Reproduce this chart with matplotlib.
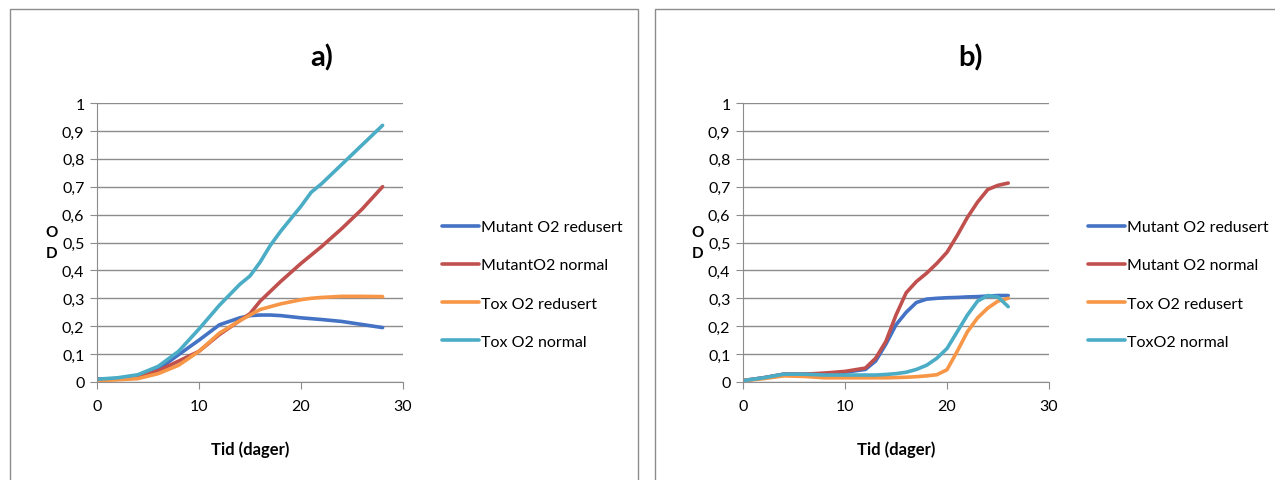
import matplotlib
matplotlib.use("Agg")
import matplotlib.pyplot as plt
from matplotlib.patches import Rectangle

plt.rcParams["font.family"] = ["Lato", "DejaVu Sans"]

# panel a) measurements (days, OD)
days_a = [0, 2, 4, 6, 8, 10, 12, 14, 15, 16, 17, 18, 20, 21, 22, 24, 26, 28]
mut_red_a = [0.01, 0.012, 0.02, 0.045, 0.098, 0.15, 0.205, 0.23, 0.238, 0.24, 0.24, 0.238, 0.23, 0.227, 0.224, 0.217, 0.206, 0.195]
mut_norm_a = [0.01, 0.012, 0.02, 0.04, 0.075, 0.11, 0.17, 0.22, 0.245, 0.29, 0.325, 0.36, 0.425, 0.455, 0.485, 0.55, 0.62, 0.70]
tox_red_a = [0.005, 0.008, 0.012, 0.03, 0.06, 0.11, 0.175, 0.22, 0.24, 0.26, 0.27, 0.28, 0.295, 0.30, 0.303, 0.307, 0.307, 0.306]
tox_norm_a = [0.01, 0.015, 0.026, 0.056, 0.11, 0.19, 0.275, 0.35, 0.38, 0.43, 0.49, 0.54, 0.63, 0.68, 0.71, 0.78, 0.85, 0.92]

# panel b) measurements
days_b = [0, 2, 4, 6, 8, 10, 12, 13, 14, 15, 16, 17, 18, 19, 20, 21, 22, 23, 24, 25, 26]
mut_red_b = [0.005, 0.015, 0.028, 0.028, 0.03, 0.035, 0.045, 0.075, 0.135, 0.205, 0.25, 0.285, 0.297, 0.3, 0.302, 0.303, 0.305, 0.306, 0.308, 0.31, 0.31]
mut_norm_b = [0.005, 0.015, 0.028, 0.028, 0.032, 0.038, 0.05, 0.085, 0.145, 0.24, 0.32, 0.36, 0.39, 0.425, 0.465, 0.525, 0.59, 0.645, 0.69, 0.705, 0.713]
tox_red_b = [0.005, 0.012, 0.022, 0.02, 0.015, 0.015, 0.015, 0.015, 0.015, 0.016, 0.017, 0.019, 0.022, 0.026, 0.044, 0.11, 0.18, 0.23, 0.265, 0.29, 0.30]
tox_norm_b = [0.005, 0.015, 0.028, 0.028, 0.025, 0.025, 0.025, 0.025, 0.027, 0.03, 0.035, 0.045, 0.06, 0.085, 0.12, 0.18, 0.24, 0.29, 0.31, 0.305, 0.27]

labels_a = ["Mutant O2 redusert", "MutantO2 normal", "Tox O2 redusert", "Tox O2 normal"]
labels_b = ["Mutant O2 redusert", "Mutant O2 normal", "Tox O2 redusert", "ToxO2 normal"]
colors = ["#4472c4", "#c0504d", "#f79646", "#4bacc6"]

y_ticks = [0, 0.1, 0.2, 0.3, 0.4, 0.5, 0.6, 0.7, 0.8, 0.9, 1.0]
y_ticklabels = ["0", "0,1", "0,2", "0,3", "0,4", "0,5", "0,6", "0,7", "0,8", "0,9", "1"]
x_ticks = [0, 10, 20, 30]

W, H = 1275, 481
GRID = "#8c8c8c"
fig = plt.figure(figsize=(W / 100, H / 100), dpi=100)


def px(x0, y0, x1, y1):
    # pixel box -> figure fraction [left, bottom, width, height]
    return [x0 / W, 1 - y1 / H, (x1 - x0) / W, (y1 - y0) / H]


def panel(box, axbox, title, title_x, days, series, labels):
    fig.add_artist(Rectangle((box[0] / W, 1 - box[3] / H), (box[2] - box[0]) / W,
                             (box[3] - box[1]) / H, transform=fig.transFigure,
                             fill=False, edgecolor=GRID, linewidth=1))
    fig.text(title_x / W, 1 - 58 / H, title, fontsize=21, fontweight="bold",
             ha="center", va="center")
    ax = fig.add_axes(px(*axbox))
    for vals, lab, c in zip(series, labels, colors):
        ax.plot(days, vals, color=c, linewidth=2.6, label=lab, solid_capstyle="round")
    ax.set_xlim(0, 30)
    ax.set_ylim(0, 1)
    ax.set_yticks(y_ticks)
    ax.set_yticklabels(y_ticklabels)
    ax.set_xticks(x_ticks)
    ax.grid(axis="y", color=GRID, linewidth=1)
    ax.set_axisbelow(True)
    for s in ["top", "right"]:
        ax.spines[s].set_visible(False)
    ax.spines["bottom"].set_color(GRID)
    ax.spines["left"].set_color(GRID)
    ax.tick_params(axis="x", length=5, color=GRID, labelsize=11.5, pad=7)
    ax.tick_params(axis="y", length=5, color=GRID, labelsize=11.5, pad=4)
    ax.set_xlabel("Tid (dager)", fontsize=12, fontweight="bold", labelpad=20)
    ax.set_ylabel("O\nD", fontsize=11, fontweight="bold", rotation=0,
                  ha="center", va="center", linespacing=1.7)
    ax.yaxis.set_label_coords(-0.148, 0.5)
    ax.legend(loc="center left", bbox_to_anchor=(1.08, 0.35), frameon=False,
              fontsize=11.5, handlelength=2.3, handletextpad=0.15, labelspacing=1.5)
    return ax


panel((10, 10, 638, 485), (97, 104, 403, 383), "a)", 322, days_a,
      [mut_red_a, mut_norm_a, tox_red_a, tox_norm_a], labels_a)
panel((655, 10, 1280, 485), (743, 104, 1049, 383), "b)", 970, days_b,
      [mut_red_b, mut_norm_b, tox_red_b, tox_norm_b], labels_b)

fig.savefig("out.png", dpi=100)
